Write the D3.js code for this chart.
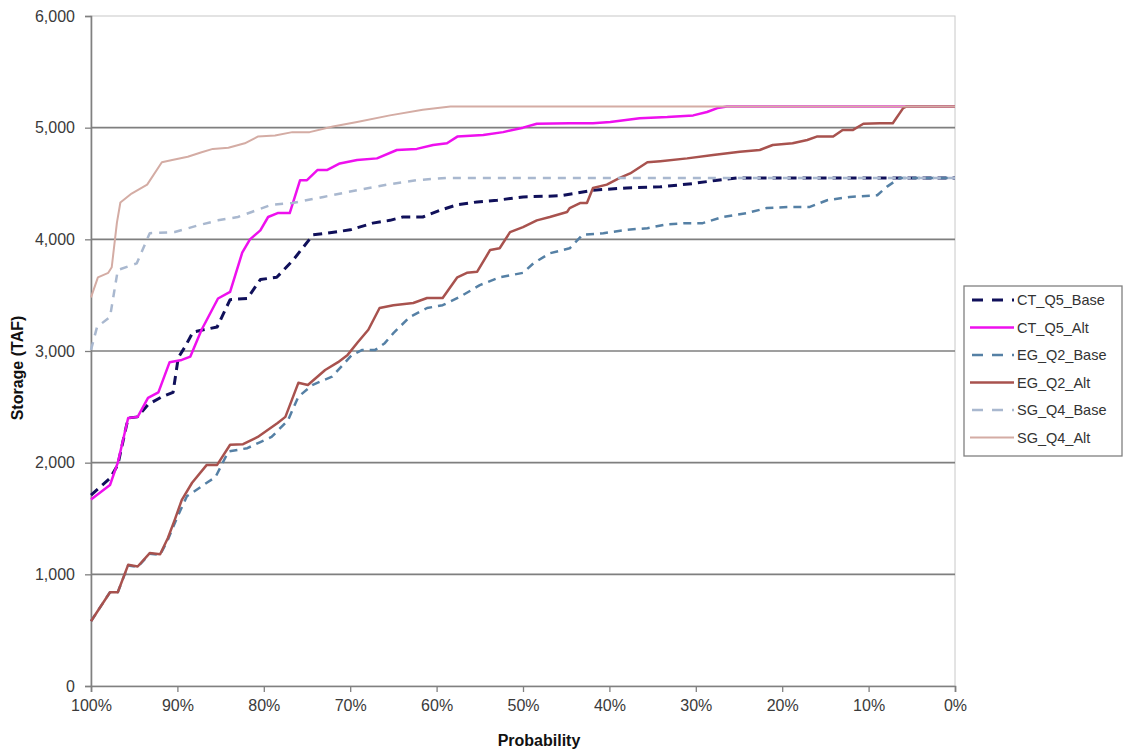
<!DOCTYPE html>
<html>
<head>
<meta charset="utf-8">
<script src="https://cdn.jsdelivr.net/npm/d3@7"></script>
<style>
  html, body { margin: 0; padding: 0; background: #fff; }
  svg { display: block; font-family: "Liberation Sans", Arial, sans-serif; }
</style>
</head>
<body>
<svg id="chart" width="1127" height="751"></svg>
<script>
// ---- data (probability of exceedance %, storage TAF) ----
const seriesNames = ["CT_Q5_Base", "CT_Q5_Alt", "EG_Q2_Base", "EG_Q2_Alt", "SG_Q4_Base", "SG_Q4_Alt"];

const ctBaseProb = [100, 97.8, 96.9, 95.7, 94.6, 93.4, 91.8, 90.5, 89.9, 89.1, 88.2, 85.4, 83.9, 81.9, 80.4, 78.5, 76.6, 74.3, 72.7, 70.0, 67.4, 65.4, 63.9, 61.6, 59.6, 57.6, 55.3, 53.0, 50.0, 45.7, 41.9, 38.0, 34.1, 30.3, 27.5, 25.2, 0];
const ctBaseVal  = [1710, 1860, 1980, 2400, 2410, 2520, 2590, 2630, 2940, 3040, 3170, 3215, 3460, 3470, 3640, 3660, 3815, 4040, 4055, 4085, 4145, 4170, 4200, 4200, 4260, 4310, 4335, 4350, 4380, 4390, 4440, 4460, 4470, 4500, 4530, 4550, 4550];

const ctAltProb = [100, 97.8, 96.9, 95.7, 94.6, 93.4, 92.2, 90.9, 89.5, 88.5, 87.2, 85.3, 83.9, 82.5, 81.6, 80.4, 79.5, 78.4, 77.0, 75.8, 75.0, 73.8, 72.7, 71.2, 69.2, 66.9, 64.6, 62.3, 60.4, 58.8, 57.6, 54.6, 52.3, 50.0, 48.4, 44.6, 41.9, 39.9, 36.5, 33.3, 30.3, 28.7, 27.5, 26.4, 0];
const ctAltVal  = [1670, 1800, 2000, 2400, 2410, 2580, 2630, 2900, 2920, 2950, 3190, 3470, 3530, 3880, 4000, 4080, 4200, 4235, 4235, 4530, 4530, 4620, 4620, 4680, 4710, 4725, 4800, 4810, 4845, 4860, 4920, 4935, 4960, 5000, 5035, 5040, 5040, 5050, 5085, 5095, 5110, 5140, 5175, 5190, 5190];

const egBaseProb = [100, 97.8, 96.9, 95.7, 94.6, 93.2, 92.0, 91.1, 90.0, 88.9, 88.3, 86.6, 85.6, 84.1, 81.9, 80.4, 79.1, 77.2, 76.0, 74.4, 72.1, 69.8, 68.6, 67.1, 66.0, 65.0, 63.1, 61.1, 59.3, 57.3, 55.0, 52.7, 50.0, 48.8, 46.9, 44.6, 43.1, 40.7, 38.0, 35.6, 33.3, 31.0, 29.2, 26.9, 24.1, 21.8, 19.4, 16.8, 14.8, 12.2, 9.0, 7.9, 6.4, 0];
const egBaseVal  = [580, 840, 840, 1080, 1065, 1185, 1175, 1310, 1515, 1700, 1730, 1820, 1870, 2100, 2130, 2185, 2230, 2380, 2590, 2695, 2770, 2965, 3010, 3010, 3070, 3160, 3305, 3385, 3410, 3485, 3590, 3660, 3700, 3785, 3875, 3920, 4040, 4055, 4085, 4100, 4135, 4145, 4145, 4200, 4235, 4280, 4290, 4290, 4350, 4380, 4395, 4470, 4550, 4550];

const egAltProb = [100, 97.8, 96.9, 95.7, 94.6, 93.2, 92.0, 91.1, 90.3, 89.5, 88.3, 86.6, 85.4, 83.9, 82.4, 80.7, 78.4, 77.5, 76.0, 74.9, 72.9, 71.4, 70.3, 69.1, 67.9, 66.6, 65.0, 62.7, 61.1, 59.3, 57.6, 56.5, 55.3, 53.8, 52.7, 51.5, 50.0, 48.4, 46.9, 44.9, 44.6, 43.4, 42.6, 41.9, 40.3, 38.8, 37.6, 35.6, 34.1, 31.0, 28.0, 24.9, 22.6, 21.1, 18.8, 17.1, 16.0, 14.1, 13.0, 11.8, 10.6, 8.7, 7.2, 6.0, 5.6, 0];
const egAltVal  = [580, 840, 840, 1085, 1070, 1190, 1180, 1325, 1490, 1665, 1820, 1980, 1980, 2160, 2165, 2230, 2355, 2410, 2715, 2695, 2830, 2900, 2965, 3080, 3190, 3385, 3410, 3430, 3475, 3475, 3660, 3700, 3710, 3905, 3920, 4065, 4110, 4170, 4200, 4245, 4280, 4325, 4325, 4460, 4490, 4550, 4590, 4690, 4700, 4725, 4755, 4785, 4800, 4845, 4860, 4890, 4920, 4920, 4980, 4980, 5035, 5040, 5040, 5175, 5190, 5190];

const sgBaseProb = [100, 99.3, 97.8, 96.9, 94.7, 93.2, 90.3, 87.6, 85.3, 83.0, 81.4, 79.1, 76.7, 73.1, 69.2, 65.7, 62.3, 58.8, 0];
const sgBaseVal  = [3010, 3215, 3305, 3725, 3785, 4055, 4065, 4125, 4170, 4200, 4245, 4310, 4325, 4380, 4440, 4490, 4530, 4550, 4550];

const sgAltProb = [100, 99.2, 98.0, 97.6, 97.0, 96.6, 95.3, 93.5, 91.8, 90.6, 88.8, 87.2, 85.9, 84.1, 82.2, 80.7, 78.7, 76.7, 74.7, 72.0, 69.2, 65.4, 61.6, 58.4, 0];
const sgAltVal  = [3480, 3660, 3700, 3750, 4150, 4330, 4410, 4490, 4690, 4710, 4740, 4780, 4810, 4820, 4860, 4920, 4930, 4960, 4960, 5010, 5050, 5110, 5160, 5190, 5190];

const xTickValues = [100, 90, 80, 70, 60, 50, 40, 30, 20, 10, 0];
const yTickValues = [0, 1000, 2000, 3000, 4000, 5000, 6000];
const xTitle = "Probability";
const yTitle = "Storage (TAF)";

// ---- styles ----
const styles = {
  "CT_Q5_Base": { color: "#10105a", width: 3,   dash: "9,6" },
  "CT_Q5_Alt":  { color: "#ee10ee", width: 2.5, dash: null },
  "EG_Q2_Base": { color: "#5580a5", width: 2.5, dash: "8,6" },
  "EG_Q2_Alt":  { color: "#a8524e", width: 2.5, dash: null },
  "SG_Q4_Base": { color: "#a9b8cf", width: 2.5, dash: "8,7" },
  "SG_Q4_Alt":  { color: "#d4aca4", width: 2,   dash: null }
};

const seriesData = [
  [ctBaseProb, ctBaseVal],
  [ctAltProb, ctAltVal],
  [egBaseProb, egBaseVal],
  [egAltProb, egAltVal],
  [sgBaseProb, sgBaseVal],
  [sgAltProb, sgAltVal]
].map(([p, v], i) => ({ name: seriesNames[i], points: p.map((d, j) => ({ p: d, v: v[j] })) }));

// ---- layout ----
const svg = d3.select("#chart");
const L = 91, R = 955, T = 16, B = 686;

const x = d3.scaleLinear().domain([100, 0]).range([L, R]);
const y = d3.scaleLinear().domain([0, 6000]).range([B, T]);

// plot border (top/right light)
svg.append("rect").attr("x", L).attr("y", T).attr("width", R - L).attr("height", B - T)
  .attr("fill", "#fff").attr("stroke", "#c8c8c8").attr("stroke-width", 1);

// gridlines
svg.append("g").selectAll("line").data(yTickValues.filter(d => d > 0 && d < 6000)).join("line")
  .attr("x1", L).attr("x2", R).attr("y1", d => y(d)).attr("y2", d => y(d))
  .attr("stroke", "#7f7f7f").attr("stroke-width", 1.6);

// y axis
const yAxis = d3.axisLeft(y).tickValues(yTickValues).tickFormat(d3.format(",")).tickSize(6).tickPadding(10);
const gy = svg.append("g").attr("transform", `translate(${L},0)`).call(yAxis);
gy.select(".domain").attr("stroke", "#808080").attr("stroke-width", 1.6);
gy.selectAll(".tick line").attr("stroke", "#808080").attr("stroke-width", 1.3);
gy.selectAll("text").attr("font-size", 16).attr("fill", "#3a3a3a").attr("font-family", '"Liberation Sans", Arial, sans-serif');

// x axis
const xAxis = d3.axisBottom(x).tickValues(xTickValues).tickFormat(d => d + "%").tickSize(6).tickPadding(8);
const gx = svg.append("g").attr("transform", `translate(0,${B})`).call(xAxis);
gx.select(".domain").attr("stroke", "#808080").attr("stroke-width", 1.6);
gx.selectAll(".tick line").attr("stroke", "#808080").attr("stroke-width", 1.3);
gx.selectAll("text").attr("font-size", 16).attr("fill", "#3a3a3a").attr("font-family", '"Liberation Sans", Arial, sans-serif');

// series
const line = d3.line().x(d => x(d.p)).y(d => y(d.v));
const gl = svg.append("g");
seriesData.forEach(s => {
  const st = styles[s.name];
  gl.append("path").datum(s.points)
    .attr("d", line)
    .attr("fill", "none")
    .attr("stroke", st.color)
    .attr("stroke-width", st.width)
    .attr("stroke-linejoin", "round")
    .attr("stroke-dasharray", st.dash);
});

// titles
svg.append("text").attr("x", 539).attr("y", 746).attr("text-anchor", "middle")
  .attr("font-size", 16).attr("font-weight", "bold").attr("fill", "#111").text(xTitle);
svg.append("text").attr("transform", "translate(23,368) rotate(-90)").attr("text-anchor", "middle")
  .attr("font-size", 16).attr("font-weight", "bold").attr("fill", "#111").text(yTitle);

// legend
const lg = svg.append("g");
lg.append("rect").attr("x", 964).attr("y", 286).attr("width", 158).attr("height", 170)
  .attr("fill", "#fff").attr("stroke", "#808080").attr("stroke-width", 1.3);
seriesNames.forEach((n, i) => {
  const st = styles[n];
  const cy = 300 + i * 27.5;
  lg.append("line").attr("x1", 970).attr("x2", 1014).attr("y1", cy).attr("y2", cy)
    .attr("stroke", st.color).attr("stroke-width", st.width).attr("stroke-dasharray", st.dash ? "11,9" : null)
    .attr("stroke-dashoffset", st.dash ? -2 : null);
  lg.append("text").attr("x", 1017).attr("y", cy + 5).attr("font-size", 14.5).attr("fill", "#333").text(n);
});
</script>
</body>
</html>
